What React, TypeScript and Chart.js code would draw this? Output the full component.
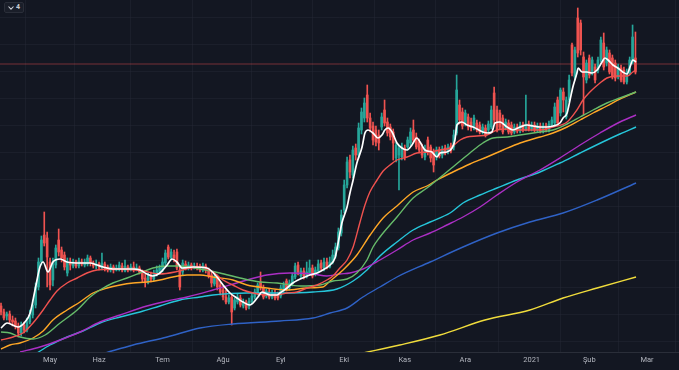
import React, { useEffect, useRef } from "react";
import { Chart, registerables } from "chart.js";

Chart.register(...registerables);

// ---- Daily candles (price units), one per trading day ----
const openP = [
  4.6, 4.0, 3.6, 3.8, 3.2, 3.1, 2.6, 1.9, 2.7, 2.2,
  3.0, 3.7, 4.7, 6.5, 9.0, 11.7, 11.4, 9.0, 7.2, 8.7,
  11.2, 10.2, 9.7, 7.9, 9.0, 8.6, 9.0, 8.6, 9.0, 8.7,
  8.8, 9.4, 8.9, 8.6, 8.8, 8.4, 8.8, 8.5, 8.2, 8.5,
  8.2, 8.3, 8.6, 8.1, 8.5, 8.2, 8.5, 8.2, 8.4, 8.0,
  7.4, 7.0, 7.6, 7.3, 7.8, 8.0, 8.2, 8.9, 10.5, 9.4,
  9.7, 10.0, 8.2, 8.0, 8.8, 8.4, 8.7, 8.4, 8.6, 8.5,
  8.2, 8.6, 8.2, 7.7, 6.8, 7.5, 6.7, 6.2, 5.5, 5.0,
  5.5, 4.4, 5.0, 5.4, 4.6, 5.0, 4.6, 5.0, 5.5, 5.9,
  7.0, 6.4, 5.6, 6.0, 5.5, 5.9, 5.7, 5.6, 6.2, 7.1,
  6.4, 6.8, 7.5, 8.7, 7.6, 8.1, 7.6, 7.9, 8.4, 7.8,
  8.1, 8.9, 8.4, 9.0, 8.5, 9.0, 9.6, 10.4, 11.9, 14.2,
  16.7, 19.2, 17.7, 20.4, 19.7, 22.2, 23.4, 25.7, 23.4, 22.6,
  22.2, 21.7, 22.5, 24.2, 23.0, 22.5, 22.0, 19.4, 19.7, 19.5,
  20.4, 20.5, 20.9, 22.2, 21.5, 21.0, 20.5, 19.5, 21.2, 20.5,
  20.0, 19.5, 20.2, 19.7, 20.4, 20.1, 20.6, 20.5, 21.9, 24.7,
  24.0, 22.9, 23.5, 23.0, 22.5, 22.9, 22.7, 22.0, 22.4, 22.2,
  22.5, 25.9, 24.2, 23.9, 23.4, 22.4, 22.9, 22.7, 22.0, 22.5,
  22.1, 22.7, 22.2, 22.8, 22.3, 22.7, 22.2, 22.6, 22.1, 22.6,
  22.2, 22.7, 22.9, 25.2, 23.9, 26.0, 23.5, 25.2, 30.7, 27.5,
  33.4, 32.9, 29.5, 27.2, 29.4, 28.0, 28.5, 28.2, 29.2, 30.9,
  28.9, 29.9, 29.4, 28.9, 27.5, 28.4, 28.2, 27.0, 27.9, 29.0, 29.4,
];
const highP = [
  4.9, 4.3, 4.0, 4.1, 3.6, 3.4, 2.9, 3.0, 3.0, 3.4,
  4.2, 5.2, 6.9, 9.4, 11.6, 14.0, 12.0, 9.4, 9.4, 10.7,
  12.3, 10.5, 10.0, 9.4, 9.4, 9.3, 9.2, 9.4, 9.3, 9.3,
  9.7, 9.6, 9.1, 9.2, 9.0, 9.9, 9.0, 8.7, 8.8, 8.7,
  8.7, 9.0, 8.9, 9.2, 8.7, 8.8, 9.0, 8.8, 8.6, 8.2,
  7.8, 7.9, 8.0, 8.2, 8.6, 8.7, 9.4, 10.2, 10.7, 10.3,
  10.2, 10.3, 8.7, 9.2, 9.1, 9.0, 8.9, 8.9, 8.9, 8.8,
  8.9, 8.8, 8.4, 8.0, 7.7, 7.7, 7.0, 6.6, 6.2, 5.7,
  5.8, 5.4, 5.8, 5.7, 5.3, 5.2, 5.4, 5.9, 6.3, 6.9,
  8.0, 6.7, 6.3, 6.3, 6.2, 6.2, 6.0, 6.7, 7.0, 7.3,
  7.2, 7.9, 8.9, 9.0, 8.4, 8.4, 9.0, 9.2, 8.7, 8.5,
  9.2, 9.2, 9.4, 9.4, 9.5, 10.2, 10.9, 12.4, 14.2, 17.2,
  19.5, 19.7, 20.6, 20.8, 22.9, 24.4, 25.4, 26.7, 23.9, 23.0,
  22.6, 22.2, 23.9, 25.2, 23.4, 22.8, 22.3, 21.0, 20.7, 20.9,
  20.7, 21.5, 22.4, 23.2, 21.9, 21.3, 20.8, 20.7, 21.5, 20.7,
  20.3, 20.5, 20.5, 20.6, 20.7, 20.8, 20.9, 22.2, 27.7, 25.2,
  24.4, 24.2, 23.8, 23.4, 23.7, 23.2, 23.0, 22.8, 22.7, 23.1,
  24.6, 26.5, 24.6, 24.2, 23.7, 23.3, 23.2, 23.0, 22.8, 22.8,
  23.0, 23.0, 25.7, 23.1, 23.0, 23.0, 22.9, 22.9, 22.9, 22.9,
  23.1, 23.5, 24.9, 25.5, 26.4, 26.4, 25.5, 27.7, 30.9, 30.5,
  34.4, 33.2, 30.0, 29.2, 29.7, 29.5, 28.8, 29.5, 31.5, 31.9,
  30.5, 30.2, 29.7, 29.2, 28.8, 28.7, 28.5, 28.3, 29.5, 32.7, 32.0,
];
const lowP = [
  3.7, 3.2, 3.2, 2.9, 2.6, 2.3, 1.5, 1.6, 1.9, 2.0,
  2.8, 3.4, 4.4, 6.2, 8.7, 10.6, 6.5, 6.2, 6.6, 8.4,
  9.6, 9.0, 8.2, 7.6, 8.2, 8.4, 8.4, 8.4, 8.6, 8.5,
  8.6, 8.6, 8.4, 8.3, 8.2, 8.2, 8.1, 8.0, 8.0, 7.9,
  8.1, 8.1, 8.0, 8.0, 8.0, 8.1, 8.0, 8.1, 7.8, 7.0,
  6.5, 6.8, 7.0, 7.1, 7.6, 7.8, 8.0, 8.7, 9.3, 9.2,
  9.0, 8.2, 6.2, 7.7, 8.2, 8.2, 8.2, 8.3, 8.2, 8.0,
  8.0, 7.9, 7.4, 6.5, 6.6, 6.2, 5.7, 5.2, 4.8, 4.8,
  2.7, 4.2, 4.8, 4.5, 4.4, 4.2, 4.3, 4.8, 5.3, 5.7,
  6.2, 5.3, 5.4, 5.3, 5.3, 5.2, 5.2, 5.4, 6.0, 6.1,
  6.2, 6.6, 7.3, 7.7, 7.4, 7.3, 7.4, 7.7, 7.4, 7.6,
  7.9, 8.2, 8.1, 8.3, 8.4, 8.8, 9.4, 10.2, 11.6, 13.9,
  16.4, 17.4, 17.4, 19.2, 19.4, 21.8, 23.0, 23.0, 22.0, 20.7,
  20.6, 20.2, 22.2, 22.6, 21.6, 21.2, 19.2, 19.0, 16.2, 19.2,
  19.2, 20.2, 20.6, 20.9, 20.3, 19.9, 19.4, 19.2, 19.7, 19.0,
  18.0, 19.2, 19.4, 19.4, 19.7, 19.8, 19.9, 20.2, 21.7, 22.8,
  22.3, 22.6, 22.2, 22.1, 22.2, 22.0, 21.8, 21.8, 21.5, 21.9,
  22.3, 22.8, 22.0, 22.2, 21.8, 22.2, 21.8, 21.7, 21.8, 21.9,
  21.9, 22.0, 22.1, 22.1, 22.1, 22.0, 22.0, 21.9, 21.9, 22.0,
  22.0, 22.5, 22.7, 22.7, 23.6, 24.0, 23.3, 25.0, 27.6, 27.2,
  29.5, 29.7, 23.7, 26.9, 27.4, 27.7, 26.9, 27.9, 29.0, 28.2,
  28.6, 27.8, 27.3, 27.1, 27.3, 27.0, 26.8, 26.8, 27.7, 28.8, 27.8,
];
const closeP = [
  4.0, 3.4, 3.8, 3.2, 3.0, 2.6, 1.9, 2.7, 2.2, 3.0,
  3.7, 4.7, 6.5, 9.0, 11.2, 10.9, 9.5, 6.7, 9.0, 10.4,
  10.0, 9.4, 8.5, 9.0, 8.7, 9.0, 8.6, 9.1, 8.8, 9.0,
  9.4, 8.9, 8.6, 8.8, 8.5, 8.9, 8.4, 8.2, 8.5, 8.2,
  8.4, 8.7, 8.2, 8.6, 8.2, 8.5, 8.2, 8.4, 8.0, 7.3,
  7.0, 7.6, 7.3, 7.9, 8.2, 8.4, 9.0, 9.9, 9.5, 10.0,
  9.4, 8.4, 6.5, 8.9, 8.4, 8.7, 8.4, 8.6, 8.4, 8.2,
  8.6, 8.2, 7.6, 6.9, 7.4, 6.5, 6.0, 5.5, 5.0, 5.4,
  4.0, 5.2, 5.5, 4.7, 5.0, 4.4, 5.1, 5.6, 6.0, 6.7,
  6.4, 5.5, 6.1, 5.5, 5.9, 5.4, 5.4, 6.4, 6.7, 6.3,
  6.9, 7.6, 8.6, 8.0, 8.1, 7.6, 8.0, 8.4, 7.6, 8.2,
  8.8, 8.4, 9.0, 8.5, 9.0, 9.7, 10.5, 12.0, 13.7, 16.7,
  19.0, 18.0, 20.2, 19.7, 22.4, 24.0, 24.9, 23.4, 22.4, 21.2,
  21.0, 20.9, 23.5, 22.9, 21.9, 21.5, 20.9, 20.7, 20.4, 20.5,
  19.5, 21.2, 22.0, 21.2, 20.5, 20.2, 19.7, 20.3, 20.0, 19.4,
  18.7, 20.2, 19.6, 20.3, 19.9, 20.5, 20.1, 21.7, 26.2, 23.2,
  22.6, 23.9, 22.5, 22.4, 23.4, 22.2, 22.0, 22.5, 21.7, 22.8,
  24.2, 23.2, 22.2, 22.5, 22.0, 23.0, 22.0, 21.9, 22.5, 22.1,
  22.7, 22.2, 22.8, 22.3, 22.7, 22.2, 22.6, 22.1, 22.6, 22.2,
  22.8, 23.2, 24.5, 22.9, 26.2, 25.2, 25.2, 27.2, 27.9, 30.2,
  29.9, 30.2, 27.5, 28.9, 27.7, 29.2, 27.2, 29.2, 31.2, 28.5,
  30.2, 28.0, 27.5, 27.4, 28.5, 27.2, 27.0, 28.0, 29.2, 31.5, 28.0,
];

// ---- Moving averages: [bar index, value] ----
const maWhite = [[0,2.4],[2.1,2.9],[5.9,2.5],[8.3,3.0],[10.1,3.9],[11.8,6.2],[13.5,8.5],[14.6,9.0],[16.3,8.0],[18.0,9.0],[20.5,9.3],[22.9,9.0],[27.4,8.9],[30.9,8.9],[33.3,8.7],[35.4,8.5],[38.8,8.3],[45.8,8.3],[48.2,8.2],[50.6,7.8],[52.7,7.6],[55.1,7.9],[57.6,8.7],[59.3,9.3],[61.0,9.0],[62.8,8.4],[66.6,8.5],[71.4,8.4],[74.9,7.5],[77.0,6.7],[79.4,5.9],[81.8,5.4],[83.9,5.0],[86.3,4.7],[87.4,4.9],[89.1,5.5],[90.5,6.0],[91.5,5.9],[93.3,5.7],[95.7,5.7],[96.7,5.9],[99.2,6.4],[101.2,6.9],[103.0,7.2],[105.4,7.5],[107.1,7.7],[109.6,7.9],[111.6,8.2],[114.1,8.7],[115.8,9.4],[116.9,10.9],[118.2,12.9],[120.0,14.5],[121.0,15.9],[122.1,17.2],[123.4,18.9],[125.2,20.5],[126.2,21.9],[127.3,22.2],[129.0,21.9],[130.7,21.4],[132.1,21.7],[133.1,22.2],[134.2,22.4],[135.6,22.0],[137.3,20.9],[139.0,20.4],[140.8,20.2],[142.5,20.7],[144.2,21.4],[145.3,21.0],[147.0,20.2],[149.4,20.0],[151.2,19.5],[152.2,19.9],[154.6,20.0],[156.4,20.4],[157.4,21.2],[158.1,22.7],[159.8,23.0],[161.6,22.7],[163.7,22.5],[167.1,22.0],[168.9,21.9],[170.2,22.0],[171.3,22.9],[173.0,23.0],[175.5,22.5],[177.5,22.2],[180.0,22.5],[182.4,22.7],[184.5,22.6],[186.9,22.5],[189.3,22.5],[191.4,22.6],[193.8,22.9],[194.9,23.4],[196.3,23.9],[197.3,25.2],[198.3,26.5],[199.7,27.9],[200.1,28.4],[201.5,28.0],[203.2,28.0],[204.9,27.9],[206.7,28.2],[208.4,29.0],[209.4,29.4],[210.5,29.2],[212.2,28.7],[213.9,28.4],[215.6,28.0],[217.1,27.8],[218.1,28.5],[219.1,29.2],[220.2,29.0]];
const maRed = [[0,1.2],[4.2,1.5],[7.6,1.9],[11.1,2.9],[14.6,4.2],[17.0,5.2],[19.4,6.1],[22.9,6.9],[26.4,7.4],[29.8,7.9],[33.3,8.2],[41.3,8.3],[49.2,8.1],[55.1,7.8],[60.3,8.0],[65.5,8.4],[69.0,8.5],[73.5,8.0],[77.0,7.2],[80.4,6.7],[83.9,6.2],[87.4,5.9],[92.2,5.7],[95.7,5.7],[99.2,5.9],[102.6,6.0],[106.1,6.4],[109.6,6.7],[113.0,7.2],[115.1,7.6],[117.5,8.4],[120.0,9.2],[122.1,10.5],[124.5,13.0],[126.2,14.7],[127.9,16.0],[130.4,17.2],[132.5,18.1],[134.9,18.7],[137.3,19.2],[140.8,19.5],[144.2,19.9],[148.7,20.0],[152.2,20.2],[155.7,20.4],[159.2,21.2],[161.6,21.5],[165.0,21.6],[168.5,21.7],[172.0,22.2],[175.5,22.3],[180.0,22.2],[186.9,22.2],[191.4,22.5],[196.3,23.0],[199.7,24.2],[201.8,25.2],[204.2,26.0],[207.7,26.9],[210.1,27.4],[213.6,27.6],[217.1,27.6],[219.1,28.0],[220.2,28.2]];
const maGreen = [[0,2.0],[3.1,1.9],[6.6,1.5],[11.1,1.3],[15.3,1.7],[20.5,2.9],[26.4,4.2],[30.9,5.5],[34.3,6.2],[38.8,6.9],[43.7,7.4],[48.2,7.9],[52.7,8.4],[57.6,8.6],[62.1,8.6],[69.0,8.3],[75.9,7.9],[82.9,7.4],[89.8,7.0],[95.7,6.9],[103.7,6.6],[110.6,6.7],[115.1,7.1],[120.0,7.3],[123.4,7.9],[126.9,9.2],[129.0,10.5],[131.4,11.5],[137.3,13.5],[142.9,15.4],[147.7,16.4],[151.2,17.2],[156.7,18.5],[162.6,19.9],[167.1,20.9],[170.6,21.4],[175.5,21.5],[180.0,21.7],[186.9,22.0],[191.4,22.2],[196.3,22.8],[200.8,23.5],[205.3,24.2],[210.1,24.9],[214.6,25.4],[220.2,26.0]];
const maOrange = [[0,0.3],[3.1,0.7],[6.6,0.9],[11.1,1.4],[14.6,2.1],[18.0,3.2],[22.9,4.2],[27.4,5.0],[31.9,5.9],[36.8,6.4],[41.3,6.7],[45.8,6.9],[50.6,7.0],[55.1,7.2],[59.6,7.5],[64.5,7.7],[69.0,7.7],[73.5,7.5],[80.4,7.2],[85.3,6.7],[92.2,6.4],[99.2,6.2],[106.1,6.4],[111.6,6.5],[114.1,7.1],[118.6,8.2],[123.4,9.7],[128.0,11.7],[132.5,13.4],[137.3,14.6],[142.9,16.0],[147.7,16.6],[151.2,17.2],[156.7,18.0],[162.6,18.8],[168.5,19.5],[174.1,20.2],[180.0,20.9],[186.9,21.5],[191.4,21.9],[196.3,22.5],[200.8,23.2],[205.3,23.9],[210.1,24.6],[214.6,25.3],[220.2,26.0]];
const maPurple = [[6.6,0.0],[13.5,0.5],[20.5,1.2],[27.4,2.0],[34.3,3.0],[41.3,3.7],[50.6,4.6],[57.6,5.1],[64.5,5.5],[73.5,6.2],[85.3,7.2],[92.2,7.7],[100.2,7.9],[108.2,7.8],[113.0,7.6],[117.5,7.8],[121.0,7.9],[125.5,8.3],[131.4,9.2],[137.3,10.2],[142.9,11.2],[148.8,11.9],[154.6,12.7],[160.2,13.5],[166.1,14.5],[172.0,15.7],[178.9,17.0],[186.9,18.2],[193.8,19.4],[200.8,20.7],[207.7,21.9],[214.6,23.0],[220.2,23.7]];
const maCyan = [[12.5,-0.1],[17.0,0.7],[22.9,1.5],[28.4,2.1],[34.3,2.9],[41.3,3.5],[48.2,4.0],[55.1,4.6],[62.1,5.2],[69.0,5.5],[73.5,5.7],[85.3,5.9],[96.7,5.9],[108.2,6.0],[116.5,6.3],[122.1,7.1],[126.9,8.2],[131.4,9.6],[137.3,11.0],[142.9,12.2],[148.8,13.0],[155.7,13.9],[160.2,14.9],[166.1,15.7],[172.0,16.4],[178.9,17.2],[186.9,18.0],[193.8,18.9],[200.8,19.9],[210.1,21.2],[214.6,21.8],[220.2,22.5]];
const maBlue = [[36.1,-0.1],[45.8,0.7],[57.6,1.5],[69.0,2.4],[80.4,2.8],[96.7,3.1],[108.2,3.4],[114.1,3.9],[120.0,4.4],[125.5,5.5],[131.4,6.5],[137.3,7.5],[148.8,9.0],[160.2,10.5],[172.0,11.9],[183.4,13.0],[194.9,13.9],[206.7,15.2],[220.2,16.9]];
const maYellow = [[125.5,-0.1],[138.3,0.7],[152.2,1.7],[167.8,3.2],[183.4,4.2],[194.9,5.4],[206.7,6.4],[220.2,7.5]];

// ---- Axis content ----
const monthLabels = ["May", "Haz", "Tem", "Ağu", "Eyl", "Eki", "Kas", "Ara", "2021", "Şub", "Mar"];
const monthBars = [17, 34, 56, 77, 97, 119, 140, 161, 184, 204, 224];
const priceGrid = [1.1, 3.8, 6.5, 9.2, 11.9, 14.6, 17.3, 20.0, 22.7, 25.4, 28.1, 30.8, 33.5];
const lastPrice = 28.8;
const viewStart = -0.35;
const viewEnd = 235.1;

const UP = "#26a69a";
const DOWN = "#ef5350";
const GRID = "rgba(42,46,57,0.38)";

export default function App() {
  const ref = useRef<HTMLCanvasElement | null>(null);

  useEffect(() => {
    if (!ref.current) return;
    const idx = closeP.map((_, i) => i);
    const colors = idx.map((i) => (closeP[i] >= openP[i] ? UP : DOWN));
    const toPts = (arr: number[][]) => arr.map(([x, y]) => ({ x, y }));
    const line = (data: number[][], color: string, width: number, order: number) => ({
      type: "line" as const,
      data: toPts(data),
      borderColor: color,
      borderWidth: width,
      pointRadius: 0,
      fill: false,
      cubicInterpolationMode: "monotone" as const,
      order,
    });

    const chart = new Chart(ref.current, {
      type: "bar",
      data: {
        datasets: [
          line(maWhite, "#ffffff", 1.7, 0),
          line(maRed, "#f0524f", 1.4, 1),
          line(maGreen, "#66bb6a", 1.4, 2),
          line(maOrange, "#ffa726", 1.4, 3),
          line(maPurple, "#ab2fc4", 1.4, 4),
          line(maCyan, "#26c6da", 1.4, 5),
          line(maBlue, "#2f62c6", 1.4, 6),
          line(maYellow, "#f0dc3c", 1.4, 7),
          {
            type: "bar" as const,
            data: idx.map((i) => ({ x: i, y: [openP[i], closeP[i]] })),
            backgroundColor: colors,
            barThickness: 2,
            minBarLength: 1,
            grouped: false,
            borderWidth: 0,
            order: 10,
          } as any,
          {
            type: "bar" as const,
            data: idx.map((i) => ({ x: i, y: [lowP[i], highP[i]] })),
            backgroundColor: colors,
            barThickness: 1,
            grouped: false,
            borderWidth: 0,
            order: 11,
          } as any,
          {
            type: "line" as const,
            data: [
              { x: viewStart, y: lastPrice },
              { x: viewEnd, y: lastPrice },
            ],
            borderColor: "rgba(239,83,80,0.45)",
            borderWidth: 1,
            pointRadius: 0,
            order: 20,
          },
        ],
      },
      options: {
        responsive: false,
        animation: false,
        events: [],
        layout: { padding: 0 },
        plugins: { legend: { display: false }, tooltip: { enabled: false } },
        scales: {
          x: {
            type: "linear",
            min: viewStart,
            max: viewEnd,
            offset: false,
            afterBuildTicks: (s: any) => {
              s.ticks = monthBars.map((v) => ({ value: v }));
            },
            afterFit: (s: any) => {
              s.height = 18;
            },
            ticks: {
              autoSkip: false,
              maxRotation: 0,
              padding: 4,
              color: "#b2b5be",
              font: { family: "Roboto", size: 7.5 },
              callback: (v: any) => {
                const k = monthBars.indexOf(Number(v));
                return k >= 0 ? monthLabels[k] : "";
              },
            },
            grid: { color: GRID, drawTicks: false },
            border: { display: true, color: "#2a2e39" },
          },
          y: {
            type: "linear",
            min: 0,
            max: 35.2,
            afterBuildTicks: (s: any) => {
              s.ticks = priceGrid.map((v) => ({ value: v }));
            },
            afterFit: (s: any) => {
              s.width = 0;
            },
            ticks: { display: false },
            grid: { color: GRID, drawTicks: false },
            border: { display: false },
          },
        },
      } as any,
    });
    return () => chart.destroy();
  }, []);

  return (
    <div style={{ position: "fixed", left: 0, top: 0, width: 679, height: 370, background: "#131722", overflow: "hidden" }}>
      <canvas ref={ref} width={679} height={370} style={{ display: "block", width: 679, height: 370 }} />
      <div
        style={{
          position: "absolute",
          left: 4,
          top: 2,
          width: 18,
          height: 9,
          border: "1px solid #2a2e39",
          borderRadius: 2,
          background: "#1a1e29",
          display: "flex",
          alignItems: "center",
          justifyContent: "center",
          gap: 2,
          color: "#c9ccd3",
          font: "bold 7px Roboto, sans-serif",
          lineHeight: "9px",
        }}
      >
        <svg width="6" height="4" viewBox="0 0 6 4">
          <polyline points="0.5,0.5 3,3.2 5.5,0.5" stroke="#c9ccd3" strokeWidth="1.1" fill="none" />
        </svg>
        <span>4</span>
      </div>
    </div>
  );
}
